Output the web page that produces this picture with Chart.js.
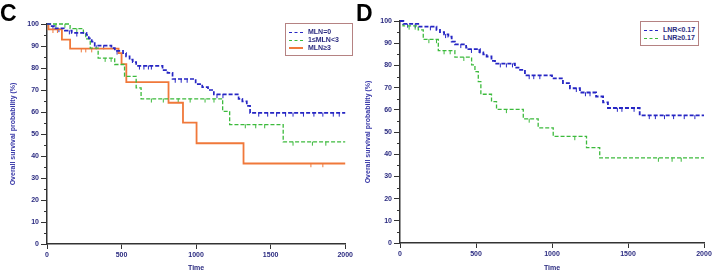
<!DOCTYPE html>
<html>
<head>
<meta charset="utf-8">
<script src="https://cdn.jsdelivr.net/npm/chart.js@4"></script>
<style>
  body { margin: 0; background: #fff; width: 715px; height: 273px; position: relative; overflow: hidden; font-family: "Liberation Sans", Arial, sans-serif; }
  .panel { position: absolute; top: 0; }
  .letter { position: absolute; font: bold 23px "Liberation Sans", Arial, sans-serif; color: #000; line-height: 1; }
  .legend { position: absolute; background: #fff; border: 1px solid #b58282; padding: 4px 5px 3px 3px; font: bold 7px "Liberation Sans", Arial, sans-serif; color: #2b2b80; }
  .legend div { height: 8px; line-height: 8px; white-space: nowrap; }
  .legend span.sw { display: inline-block; width: 14px; vertical-align: middle; margin-right: 5px; }
</style>
</head>
<body>
<div class="panel" style="left:0;width:355px;height:273px"><canvas id="chart-c" width="355" height="273"></canvas></div>
<div class="panel" style="left:355px;width:360px;height:273px"><canvas id="chart-d" width="360" height="273"></canvas></div>
<div class="letter" style="left:0;top:2px">C</div>
<div class="letter" style="left:356px;top:2px">D</div>
<div class="legend" id="legend-c" style="left:285px;top:23px;width:58px"></div>
<div class="legend" id="legend-d" style="left:640px;top:21px;width:49px"></div>
<script>
// panel C : survival by MLN
const mln0Time = [0, 22, 50, 120, 166, 265, 280, 300, 320, 432, 455, 510, 530, 554, 575, 598, 775, 808, 842, 997, 1041, 1080, 1119, 1285, 1310, 1340, 1362, 2000];
const mln0Surv = [100, 99, 98, 97, 96, 95, 93.5, 92, 90.2, 89, 87.8, 86.8, 85.3, 83.8, 82.7, 81, 79, 77.8, 75, 72.7, 71.3, 70, 68, 66, 64.8, 62.8, 59.6, 59.6];
const mln0Cens = [40, 80, 150, 200, 330, 380, 470, 620, 650, 680, 700, 860, 900, 940, 1140, 1180, 1420, 1480, 1540, 1600, 1650, 1720, 1790, 1850, 1920, 1960];

const mln12Time = [0, 155, 244, 260, 290, 343, 454, 520, 598, 631, 1178, 1225, 1584, 2000];
const mln12Surv = [100, 97.9, 95.9, 93.2, 89, 84.5, 81.6, 76.2, 71, 66, 60.3, 54.3, 46.4, 46.4];
const mln12Cens = [60, 120, 200, 390, 430, 700, 780, 880, 960, 1060, 1120, 1330, 1400, 1460, 1650, 1780, 1870];

const mln3Time = [0, 10, 100, 155, 480, 500, 532, 815, 912, 1003, 1318, 2000];
const mln3Surv = [100, 97.6, 92.9, 88.8, 86.8, 81.8, 73.6, 64.2, 55.2, 45.8, 36.6, 36.6];
const mln3Cens = [40, 70, 230, 260, 300, 1770, 1850];

// panel D : survival by LNR
const lnrLowTime = [0, 22, 120, 240, 263, 290, 318, 340, 361, 435, 450, 526, 548, 570, 602, 625, 756, 790, 822, 1000, 1072, 1118, 1184, 1290, 1336, 1368, 1577, 2000];
const lnrLowSurv = [100, 98.7, 97.5, 96, 95, 94, 93, 90.7, 89.5, 88, 87.3, 85.9, 85, 84, 82, 80.8, 79, 78, 75.5, 74.2, 72, 69.7, 67.8, 66, 63.3, 60.8, 57.5, 57.5];
const lnrLowCens = [50, 100, 200, 300, 400, 470, 520, 660, 700, 740, 850, 880, 920, 1160, 1220, 1250, 1430, 1460, 1540, 1640, 1680, 1740, 1800, 1870, 1940];

const lnrHighTime = [0, 20, 120, 153, 252, 361, 471, 493, 515, 532, 602, 635, 811, 909, 1008, 1227, 1314, 2000];
const lnrHighSurv = [100, 97.8, 96, 91.7, 86.7, 83.7, 80.2, 77.2, 72.7, 67, 63.7, 60.2, 55.9, 51.9, 48, 43, 38.3, 38.3];
const lnrHighCens = [60, 100, 190, 240, 290, 330, 420, 700, 850, 1150, 1700, 1790, 1850];

const xTicks = [0, 500, 1000, 1500, 2000];

const BLUE = "#2626c4";
const GREEN = "#3cba3c";
const ORANGE = "#f0783a";
const NAVY = "#2b2b80";

function toPoints(times, surv) {
  return times.map((t, i) => ({ x: t, y: surv[i] }));
}

// survival at a censor time
function survAt(times, surv, t) {
  let v = surv[0];
  for (let i = 0; i < times.length; i++) {
    if (times[i] <= t) v = surv[i];
  }
  return v;
}

function curve(label, times, surv, color, dash, width) {
  return {
    type: "line",
    label: label,
    data: toPoints(times, surv),
    stepped: true,
    borderColor: color,
    borderWidth: width,
    borderDash: dash,
    pointRadius: 0,
    fill: false,
    clip: false,
  };
}

function censor(times, surv, cens, color) {
  return {
    type: "scatter",
    label: "",
    data: cens.map((t) => ({ x: t, y: survAt(times, surv, t) - 0.8 })),
    pointStyle: "line",
    rotation: 90,
    radius: 2,
    borderColor: color,
    borderWidth: 1,
    backgroundColor: color,
    clip: false,
  };
}

const minorTicks = {
  id: "minorTicks",
  afterDraw(chart) {
    const ctx = chart.ctx;
    const y = chart.scales.y;
    const left = chart.chartArea.left;
    ctx.save();
    ctx.strokeStyle = "#333";
    ctx.lineWidth = 1;
    for (let v = 5; v < 100; v += 10) {
      const p = Math.round(y.getPixelForValue(v)) + 0.5;
      ctx.beginPath();
      ctx.moveTo(left - 3, p);
      ctx.lineTo(left, p);
      ctx.stroke();
    }
    ctx.restore();
  },
};

function makeOptions(padTop, padRight, yWidth, xHeight) {
  return {
    responsive: false,
    animation: false,
    layout: { padding: { top: padTop, right: padRight, left: 0, bottom: 0 } },
    plugins: {
      legend: { display: false },
      tooltip: { enabled: false },
    },
    scales: {
      x: {
        type: "linear",
        min: 0,
        max: 2000,
        afterFit: (scale) => { scale.height = xHeight; },
        afterBuildTicks: (scale) => { scale.ticks = xTicks.map((v) => ({ value: v })); },
        grid: { drawOnChartArea: false, drawTicks: true, tickLength: 5, color: "#333", tickWidth: 1 },
        border: { color: "#333", width: 1.5 },
        ticks: {
          color: NAVY,
          padding: 2,
          maxRotation: 0,
          callback: (v) => String(v),
          font: { size: 7, weight: "bold", family: "Liberation Sans" },
        },
        title: { display: true, text: "Time", color: NAVY, padding: { top: 1, bottom: 1 }, font: { size: 7, weight: "bold", family: "Liberation Sans" } },
      },
      y: {
        min: 0,
        max: 100,
        afterFit: (scale) => { scale.width = yWidth; },
        grid: { drawOnChartArea: false, drawTicks: true, tickLength: 6, color: "#333", tickWidth: 1 },
        border: { color: "#333", width: 1.5 },
        ticks: { stepSize: 10, color: NAVY, padding: 2, font: { size: 7, weight: "bold", family: "Liberation Sans" } },
        title: { display: true, text: "Overall survival probability (%)", color: "#3a3aa8", padding: { top: 9, bottom: 0 }, font: { size: 7, weight: "bold", family: "Liberation Sans" } },
      },
    },
  };
}

function htmlLegend(id, items) {
  const box = document.getElementById(id);
  box.innerHTML = items.map((it) => {
    const style = it.dash ? `border-top:1.5px dashed ${it.color}` : `border-top:2px solid ${it.color}`;
    return `<div><span class="sw" style="${style}"></span>${it.label}</div>`;
  }).join("");
}

new Chart(document.getElementById("chart-c").getContext("2d"), {
  type: "line",
  plugins: [minorTicks],
  data: {
    datasets: [
      curve("MLN=0", mln0Time, mln0Surv, BLUE, [4, 2], 1.7),
      curve("1≤MLN<3", mln12Time, mln12Surv, GREEN, [4, 2], 1.3),
      curve("MLN≥3", mln3Time, mln3Surv, ORANGE, [], 1.8),
      censor(mln0Time, mln0Surv, mln0Cens, BLUE),
      censor(mln12Time, mln12Surv, mln12Cens, GREEN),
      censor(mln3Time, mln3Surv, mln3Cens, ORANGE),
    ],
  },
  options: makeOptions(24, 7, 47, 29),
});

new Chart(document.getElementById("chart-d").getContext("2d"), {
  type: "line",
  plugins: [minorTicks],
  data: {
    datasets: [
      curve("LNR<0.17", lnrLowTime, lnrLowSurv, BLUE, [4, 2], 1.8),
      curve("LNR≥0.17", lnrHighTime, lnrHighSurv, GREEN, [4, 2], 1.3),
      censor(lnrLowTime, lnrLowSurv, lnrLowCens, BLUE),
      censor(lnrHighTime, lnrHighSurv, lnrHighCens, GREEN),
    ],
  },
  options: makeOptions(21, 11, 45, 30),
});

htmlLegend("legend-c", [
  { label: "MLN=0", color: BLUE, dash: true },
  { label: "1≤MLN<3", color: GREEN, dash: true },
  { label: "MLN≥3", color: ORANGE, dash: false },
]);
htmlLegend("legend-d", [
  { label: "LNR<0.17", color: BLUE, dash: true },
  { label: "LNR≥0.17", color: GREEN, dash: true },
]);
</script>
</body>
</html>
